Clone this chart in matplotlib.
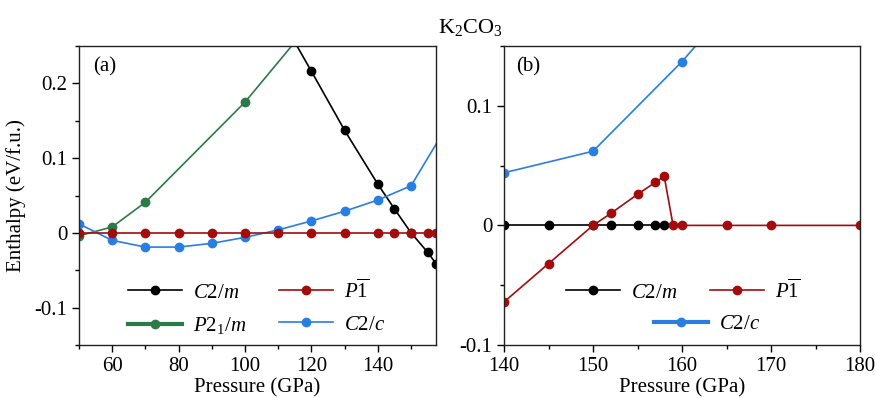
import matplotlib
matplotlib.use("Agg")
import matplotlib.pyplot as plt
from matplotlib.lines import Line2D
from matplotlib.ticker import MultipleLocator

plt.rcParams['font.family'] = ['Liberation Serif', 'DejaVu Serif']
plt.rcParams['mathtext.fontset'] = 'custom'
plt.rcParams['mathtext.rm'] = 'Liberation Serif'
plt.rcParams['mathtext.it'] = 'Liberation Serif:italic'
plt.rcParams['mathtext.bf'] = 'Liberation Serif:bold'

# ---------------- data: panel (a) ----------------
a_c2m_p = [110, 120, 130, 140, 145, 150, 155, 157.5]
a_c2m_h = [0.294, 0.216, 0.137, 0.065, 0.032, 0.0, -0.026, -0.041]
a_p1_p = [50, 60, 70, 80, 90, 100, 110, 120, 130, 140, 145, 150, 155, 157.5]
a_p1_h = [0.0] * len(a_p1_p)
a_p21m_p = [50, 60, 70, 100, 120]
a_p21m_h = [-0.004, 0.008, 0.041, 0.175, 0.282]
a_c2c_p = [50, 60, 70, 80, 90, 100, 110, 120, 130, 140, 150, 160]
a_c2c_h = [0.012, -0.010, -0.019, -0.019, -0.014, -0.006, 0.004, 0.016, 0.029, 0.044, 0.063, 0.137]

# ---------------- data: panel (b) ----------------
b_c2m_p = [140, 145, 150, 152, 155, 157, 158]
b_c2m_h = [0.0] * len(b_c2m_p)
b_p1_p = [140, 145, 150, 152, 155, 157, 158, 159, 160, 165, 170, 180]
b_p1_h = [-0.064, -0.032, 0.0, 0.010, 0.026, 0.036, 0.041, 0.0, 0.0, 0.0, 0.0, 0.0]
b_c2c_p = [140, 150, 160, 170]
b_c2c_h = [0.044, 0.062, 0.137, 0.222]

lab_c2m = r"$C2/m$"
lab_p1 = r"$P\overline{1}$"
lab_p21m = r"$P2_1/m$"
lab_c2c = r"$C2/c$"

BLACK = '#000000'
RED = '#a30c0c'
GREEN = '#2b7b48'
BLUE = '#2a7de1'

FS = 15
W, H = 875, 398
fig = plt.figure(figsize=(W / 100, H / 100), dpi=100)

def rect(l, r, t, b):
    return [l / W, 1 - b / H, (r - l) / W, (b - t) / H]

axa = fig.add_axes(rect(79, 436, 46, 345))
axb = fig.add_axes(rect(504, 860, 46, 345))

lw = 1.2
ms = 6.0

def plot(ax, x, y, c):
    ax.plot(x, y, '-o', color=c, lw=lw, ms=ms, mec=c, mfc=c)

plot(axa, a_c2m_p, a_c2m_h, BLACK)
plot(axa, a_p21m_p, a_p21m_h, GREEN)
plot(axa, a_c2c_p, a_c2c_h, BLUE)
plot(axa, a_p1_p, a_p1_h, RED)

plot(axb, b_c2m_p, b_c2m_h, BLACK)
plot(axb, b_c2c_p, b_c2c_h, BLUE)
plot(axb, b_p1_p, b_p1_h, RED)

axa.set_xlim(50, 157.5)
axa.set_ylim(-0.15, 0.25)
axa.xaxis.set_major_locator(MultipleLocator(20))
axa.xaxis.set_minor_locator(MultipleLocator(10))
axa.yaxis.set_minor_locator(MultipleLocator(0.05))
axa.set_yticks([-0.1, 0, 0.1, 0.2])
axa.set_yticklabels(['-0.1', '0', '0.1', '0.2'])

axb.set_xlim(140, 180)
axb.set_ylim(-0.1, 0.15)
axb.xaxis.set_major_locator(MultipleLocator(10))
axb.xaxis.set_minor_locator(MultipleLocator(5))
axb.yaxis.set_minor_locator(MultipleLocator(0.05))
axb.set_yticks([-0.1, 0, 0.1])
axb.set_yticklabels(['-0.1', '0', '0.1'])

for ax in (axa, axb):
    for s in ax.spines.values():
        s.set_linewidth(1.0)
        s.set_color('#222222')
    ax.tick_params(which='both', direction='out', top=False, right=False,
                   labelsize=FS, width=1.0)
    ax.tick_params(which='major', length=5)
    ax.tick_params(which='minor', length=3)
    ax.set_xlabel('Pressure (GPa)', fontsize=FS, labelpad=2)

axa.set_ylabel('Enthalpy (eV/f.u.)', fontsize=FS, labelpad=6)
axa.text(0.04, 0.93, '(a)', transform=axa.transAxes, fontsize=FS, va='center', ha='left')
axb.text(0.035, 0.93, '(b)', transform=axb.transAxes, fontsize=FS, va='center', ha='left')

fig.text(470 / W, 1 - 28 / H, r'K$_2$CO$_3$', fontsize=FS + 1, ha='center', va='center')

def h(c, w=lw):
    return Line2D([], [], color=c, lw=w, marker='o', ms=ms, mfc=c, mec=c)

leg_kw = dict(frameon=False, fontsize=FS, handlelength=2.6, handletextpad=0.5,
              borderaxespad=0, borderpad=0)

axa.legend([h(BLACK), h(GREEN, 3.0), h(RED), h(BLUE)],
           [lab_c2m, lab_p21m, lab_p1, lab_c2c], ncol=2, columnspacing=1.6,
           labelspacing=0.6,
           loc='lower left', bbox_to_anchor=((128 - 79) / 357, (345 - 336) / 299),
           **leg_kw)

l1 = axb.legend([h(BLACK), h(RED)], [lab_c2m, lab_p1], ncol=2, columnspacing=1.6,
                loc='center left', bbox_to_anchor=((566 - 504) / 356, (345 - 291) / 299),
                **leg_kw)
axb.add_artist(l1)
axb.legend([h(BLUE, 3.0)], [lab_c2c],
           loc='center left', bbox_to_anchor=((654 - 504) / 356, (345 - 324) / 299),
           **leg_kw)

fig.savefig('out.png', dpi=100)
